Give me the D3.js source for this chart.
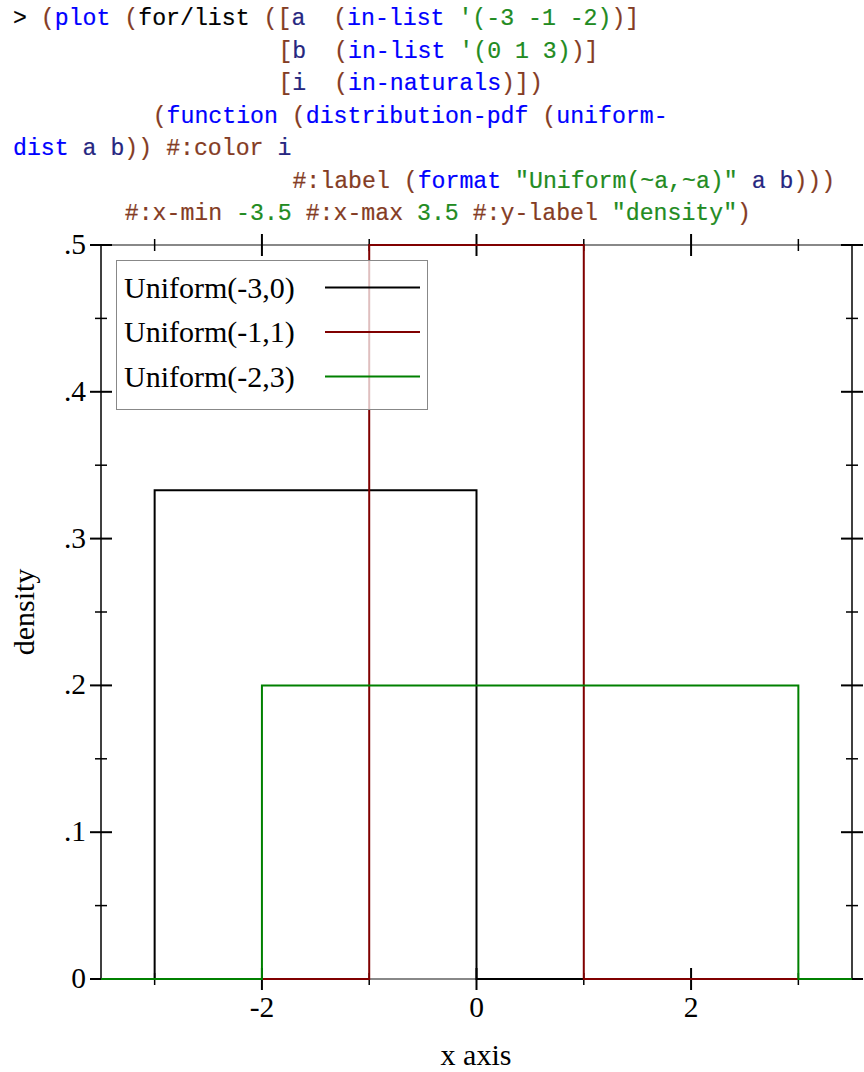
<!doctype html>
<html lang="en">
<head>
<meta charset="UTF-8">
<script src="https://d3js.org/d3.v7.min.js"></script>
<style>
body {
  margin: 0;
  background: #fff;
}
svg {
  display: block;
}
.code {
  font-family: "Liberation Mono", "DejaVu Sans Mono", monospace;
  font-size: 23.2px;
  white-space: pre;
  stroke-width: 0.2px;
}
.pn  { fill: #843c24; stroke: #843c24; }
.sym { fill: #0000ff; stroke: #0000ff; }
.var { fill: #262680; stroke: #262680; }
.val { fill: #228b22; stroke: #228b22; }
.kw  { fill: #000; stroke: #000; }
.lbl {
  font-family: "Liberation Serif", "Times New Roman", serif;
  font-size: 30px;
  fill: #000;
}
.tick-lbl {
  font-family: "Liberation Serif", "Times New Roman", serif;
  font-size: 29.5px;
  fill: #000;
}
.fn {
  fill: none;
  stroke-width: 2;
}
</style>
<title></title>
</head>
<body>
<div id="main"></div>
<script>
'use strict';

// chart values
var distLabels  = ["Uniform(-3,0)", "Uniform(-1,1)", "Uniform(-2,3)"];
var lowerBounds = [-3, -1, -2];
var upperBounds = [0, 1, 3];
var densities   = [0.333, 0.5, 0.2];
var lineColors  = ["#000000", "#800000", "#008000"];

var xDomain      = [-3.5, 3.5];
var yDomain      = [0, 0.5];
var xMajorTicks  = [-2, 0, 2];
var xMinorTicks  = [-3, -1, 1, 3];
var yMajorTicks  = [0, 0.1, 0.2, 0.3, 0.4, 0.5];
var yTickLabels  = ["0", ".1", ".2", ".3", ".4", ".5"];
var yMinorTicks  = [0.05, 0.15, 0.25, 0.35, 0.45];

// the racket source shown above the plot: [indent, [[text, class], ...]]
var codeLines = [
  [0,  [["> ", "kw"], ["(", "pn"], ["plot", "sym"], [" ", "kw"], ["(", "pn"], ["for/list", "kw"], [" ", "kw"],
        ["([", "pn"], ["a", "var"], ["  ", "kw"], ["(", "pn"], ["in-list", "sym"], [" ", "kw"],
        ["'(-3 -1 -2)", "val"], [")]", "pn"]]],
  [19, [["[", "pn"], ["b", "var"], ["  ", "kw"], ["(", "pn"], ["in-list", "sym"], [" ", "kw"],
        ["'(0 1 3)", "val"], [")]", "pn"]]],
  [19, [["[", "pn"], ["i", "var"], ["  ", "kw"], ["(", "pn"], ["in-naturals", "sym"], [")])", "pn"]]],
  [10, [["(", "pn"], ["function", "sym"], [" ", "kw"], ["(", "pn"], ["distribution-pdf", "sym"], [" ", "kw"],
        ["(", "pn"], ["uniform-", "sym"]]],
  [0,  [["dist", "sym"], [" ", "kw"], ["a", "var"], [" ", "kw"], ["b", "var"], ["))", "pn"], [" ", "kw"],
        ["#:color", "pn"], [" ", "kw"], ["i", "var"]]],
  [20, [["#:label", "pn"], [" ", "kw"], ["(", "pn"], ["format", "sym"], [" ", "kw"],
        ["\"Uniform(~a,~a)\"", "val"], [" ", "kw"], ["a", "var"], [" ", "kw"], ["b", "var"], [")))", "pn"]]],
  [8,  [["#:x-min", "pn"], [" ", "kw"], ["-3.5", "val"], [" ", "kw"], ["#:x-max", "pn"], [" ", "kw"],
        ["3.5", "val"], [" ", "kw"], ["#:y-label", "pn"], [" ", "kw"], ["\"density\"", "val"], [")", "pn"]]]
];

var width = 864,
    height = 1072,
    plotLeft = 101,
    plotRight = 852,
    plotTop = 245,
    plotBottom = 979,
    charW = 13.97;

var svg = d3.select("#main").append("svg")
  .attr("width", width)
  .attr("height", height);

// code block
svg.selectAll(".code")
  .data(codeLines)
.enter().append("text")
  .attr("class", "code")
  .attr("x", function(d) { return 13 + d[0] * charW; })
  .attr("y", function(d, i) { return 25 + i * 32.5; })
  .each(function(d) {
    d3.select(this).selectAll("tspan")
      .data(d[1])
    .enter().append("tspan")
      .attr("class", function(t) { return t[1]; })
      .text(function(t) { return t[0]; });
  });

var x = d3.scaleLinear().domain(xDomain).range([plotLeft, plotRight]),
    y = d3.scaleLinear().domain(yDomain).range([plotBottom, plotTop]);

// frame: top/bottom lines read as grey, left/right black
var frame = svg.append("g");
frame.append("line")
  .attr("x1", plotLeft).attr("x2", plotRight)
  .attr("y1", plotTop).attr("y2", plotTop)
  .attr("stroke", "#888").attr("stroke-width", 2);
frame.append("line")
  .attr("x1", plotLeft).attr("x2", plotRight)
  .attr("y1", plotBottom).attr("y2", plotBottom)
  .attr("stroke", "#888").attr("stroke-width", 2);
frame.append("line")
  .attr("x1", plotLeft).attr("x2", plotLeft)
  .attr("y1", plotTop).attr("y2", plotBottom)
  .attr("stroke", "#000").attr("stroke-width", 1.5);
frame.append("line")
  .attr("x1", plotRight).attr("x2", plotRight)
  .attr("y1", plotTop).attr("y2", plotBottom)
  .attr("stroke", "#000").attr("stroke-width", 1.5);

// ticks on all four sides
function xTicks(vals, half, sw) {
  [plotTop, plotBottom].forEach(function(yy) {
    svg.append("g").selectAll("line")
      .data(vals)
    .enter().append("line")
      .attr("x1", function(d) { return x(d); })
      .attr("x2", function(d) { return x(d); })
      .attr("y1", yy - half)
      .attr("y2", yy + half)
      .attr("stroke", "#000")
      .attr("stroke-width", sw);
  });
}
function yTicks(vals, half, sw) {
  [plotLeft, plotRight].forEach(function(xx) {
    svg.append("g").selectAll("line")
      .data(vals)
    .enter().append("line")
      .attr("y1", function(d) { return y(d); })
      .attr("y2", function(d) { return y(d); })
      .attr("x1", xx - half)
      .attr("x2", xx + half)
      .attr("stroke", "#000")
      .attr("stroke-width", sw);
  });
}
xTicks(xMajorTicks, 11, 2);
xTicks(xMinorTicks, 6, 1.5);
yTicks(yMajorTicks, 11, 2);
yTicks(yMinorTicks, 6, 1.5);

// tick labels
svg.append("g").selectAll("text")
  .data(xMajorTicks)
.enter().append("text")
  .attr("class", "tick-lbl")
  .attr("x", function(d) { return x(d); })
  .attr("y", 1017)
  .attr("text-anchor", "middle")
  .text(function(d) { return d; });

svg.append("g").selectAll("text")
  .data(yMajorTicks)
.enter().append("text")
  .attr("class", "tick-lbl")
  .attr("x", 86)
  .attr("y", function(d) { return y(d) + 9; })
  .attr("text-anchor", "end")
  .text(function(d, i) { return yTickLabels[i]; });

// axis titles
svg.append("text")
  .attr("class", "lbl")
  .attr("x", 476)
  .attr("y", 1065)
  .attr("text-anchor", "middle")
  .text("x axis");

svg.append("text")
  .attr("class", "lbl")
  .attr("transform", "translate(34,612) rotate(-90)")
  .attr("text-anchor", "middle")
  .text("density");

// step outline of each pdf
var line = d3.line()
  .x(function(d) { return x(d[0]); })
  .y(function(d) { return y(d[1]); });

var series = distLabels.map(function(lbl, i) {
  var lo = lowerBounds[i], hi = upperBounds[i], h = densities[i];
  return [[xDomain[0], 0], [lo, 0], [lo, h], [hi, h], [hi, 0], [xDomain[1], 0]];
});

svg.append("g").selectAll(".fn")
  .data(series)
.enter().append("path")
  .attr("class", "fn")
  .attr("stroke", function(d, i) { return lineColors[i]; })
  .attr("d", line);

// legend
var legend = svg.append("g");
legend.append("rect")
  .attr("x", 116.5).attr("y", 260.5)
  .attr("width", 311).attr("height", 149)
  .attr("fill", "#fff").attr("fill-opacity", 0.75)
  .attr("stroke", "#888").attr("stroke-width", 1);

var rows = legend.selectAll(".row")
  .data(distLabels)
.enter().append("g")
  .attr("class", "row")
  .attr("transform", function(d, i) { return "translate(0," + (287.5 + i * 44.5) + ")"; });

rows.append("text")
  .attr("class", "lbl")
  .attr("x", 124)
  .attr("y", 10)
  .text(function(d) { return d; });

rows.append("line")
  .attr("x1", 325).attr("x2", 420)
  .attr("y1", 0).attr("y2", 0)
  .attr("stroke", function(d, i) { return lineColors[i]; })
  .attr("stroke-width", 2);
</script>
</body>
</html>
